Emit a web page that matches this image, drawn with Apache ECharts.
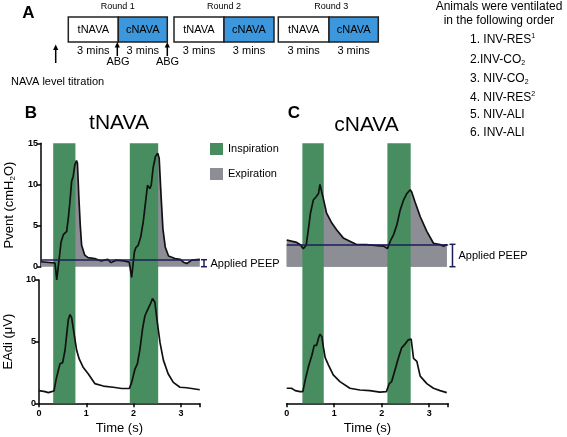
<!DOCTYPE html>
<html><head><meta charset="utf-8">
<script src="https://cdn.jsdelivr.net/npm/echarts@6/dist/echarts.min.js"></script>
<style>html,body{margin:0;padding:0;background:#fff}#c{width:567px;height:437px}</style>
</head><body><div id="c"></div>
<script>
// ---- data ----
const bPventT = [0,0.23,0.30,0.337,0.386,0.43,0.48,0.51,0.55,0.585,0.62,0.656,0.69,0.726,0.76,0.78,0.81,0.84,0.87,0.937,1.008,1.15,1.29,1.43,1.5,1.61,1.78,1.89,1.94,2.0,2.03,2.08,2.135,2.19,2.24,2.28,2.33,2.36,2.4,2.45,2.5,2.53,2.57,2.61,2.66,2.73,2.87,2.98,3.05,3.12,3.23,3.4];
const bPventV = [0.6,0.5,0.45,-1.6,0.8,3.0,3.9,4.0,4.3,5.9,7.9,10.4,11.0,12.4,12.9,12.6,8.5,5.1,2.6,1.4,1.1,1.0,0.7,0.9,0.5,0.8,0.7,0.55,-1.3,1.8,2.3,2.6,3.6,5.5,7.9,9.9,9.5,9.9,12.0,13.4,13.8,13.2,8.7,4.6,2.4,1.3,1.0,0.9,0.55,0.4,0.8,0.9];
const bEadiT = [0,0.127,0.197,0.268,0.317,0.36,0.41,0.444,0.5,0.55,0.585,0.62,0.656,0.69,0.74,0.796,0.85,0.937,1.04,1.18,1.36,1.57,1.75,1.91,1.96,2.03,2.08,2.135,2.19,2.24,2.31,2.36,2.4,2.45,2.5,2.56,2.63,2.73,2.84,2.98,3.12,3.23,3.4];
const bEadiV = [1.03,0.95,0.87,0.95,1.0,1.9,2.7,3.2,3.3,4.3,5.55,6.8,7.2,6.95,5.7,4.3,3.6,2.9,2.4,1.6,1.4,1.3,1.2,1.2,1.7,2.8,3.2,4.4,6.05,7.1,7.7,8.1,8.5,8.2,6.6,4.9,3.5,2.4,1.7,1.3,1.26,1.2,1.1];
const cPventT = [0,0.1,0.21,0.28,0.35,0.41,0.46,0.5,0.56,0.62,0.67,0.7,0.74,0.77,0.84,0.95,1.05,1.19,1.33,1.47,1.68,1.9,2.04,2.12,2.18,2.25,2.32,2.39,2.46,2.53,2.6,2.63,2.7,2.81,2.95,3.09,3.23,3.3,3.37];
const cPventV = [3.25,3.1,2.95,2.7,2.2,2.6,4.7,6.5,8.1,8.5,8.9,10.0,10.2,8.3,6.5,5.3,4.5,3.5,3.1,2.7,2.7,2.55,2.5,2.2,3.1,3.9,5.1,6.9,8.1,8.9,9.35,9.1,7.9,6.1,4.3,2.85,2.7,2.5,2.7];
const cEadiT = [0,0.1,0.18,0.28,0.34,0.39,0.46,0.53,0.58,0.63,0.67,0.7,0.74,0.77,0.81,0.88,0.98,1.12,1.33,1.54,1.75,1.96,2.1,2.16,2.21,2.28,2.35,2.42,2.49,2.56,2.62,2.67,2.74,2.81,2.95,3.09,3.23,3.37];
const cEadiV = [1.22,1.22,1.03,0.95,0.95,1.9,3.0,3.9,4.7,4.7,5.3,5.6,5.4,4.6,3.7,3.1,2.3,1.76,1.22,1.08,1.03,0.9,0.95,1.6,1.76,2.7,3.65,4.5,4.8,5.15,5.2,3.65,3.4,2.2,1.6,1.22,1.03,0.87];
const inspB = [[0.30,0.77],[1.92,2.52]];
const inspC = [[0.33,0.78],[2.12,2.61]];
const peepB = 0.85, peepC = 2.72;
const timeTicks = [0,1,2,3];
const pventTicks = [0,5,10,15];
const eadiTicks = [0,5,10];
const rounds = ['Round 1','Round 2','Round 3'];
const orderList = ['1. INV-RES{sup|1}','2.INV-CO{sub|2}','3. NIV-CO{sub|2}','4. NIV-RES{sup|2}','5. NIV-ALI','6. INV-ALI'];

const FONT = 'Liberation Sans, Arial, sans-serif';
const GREEN = '#478d5f', GRAY = '#8d8d95', NAVY = '#1c1c5a', BLUE = '#3c97dc';

const zip = (t, v) => t.map((x, i) => [x, v[i]]);

const axisBase = {
  type: 'value', min: 0, max: 3.4, interval: 1,
  axisLine: {lineStyle: {color: '#000', width: 1.5}},
  axisTick: {length: 4, lineStyle: {color: '#000', width: 1.5}},
  splitLine: {show: false},
  axisLabel: {fontSize: 9, fontWeight: 'bold', color: '#000', fontFamily: FONT, margin: 4,
    formatter: v => timeTicks.includes(v) ? String(v) : ''}
};
const hiddenX = {type: 'value', min: 0, max: 3.4, show: false};
const grids = [
  {left: 39, top: 143.3, width: 160.8, height: 123.4},
  {left: 39, top: 280, width: 160.8, height: 123.3},
  {left: 286.7, top: 143.3, width: 161.5, height: 123.4},
  {left: 286.7, top: 280, width: 161.5, height: 123.3},
  {left: 39, top: 143.3, width: 160.8, height: 260},
  {left: 286.7, top: 143.3, width: 161.5, height: 260}
];
const xAxes = [
  Object.assign({gridIndex: 0}, hiddenX),
  Object.assign({}, axisBase, {gridIndex: 1, offset: 2, name: 'Time (s)', nameLocation: 'middle', nameGap: 17,
    nameTextStyle: {fontSize: 13, color: '#000', fontFamily: FONT}}),
  Object.assign({gridIndex: 2}, hiddenX),
  Object.assign({}, axisBase, {gridIndex: 3, offset: 2, name: 'Time (s)', nameLocation: 'middle', nameGap: 17,
    nameTextStyle: {fontSize: 13, color: '#000', fontFamily: FONT}}),
  Object.assign({gridIndex: 4}, hiddenX),
  Object.assign({gridIndex: 5}, hiddenX)
];
const yStyle = (ticks) => ({
  axisLine: {show: true, lineStyle: {color: '#000', width: 1.5}},
  axisTick: {show: true, length: 4, lineStyle: {color: '#000', width: 1.5}},
  splitLine: {show: false},
  axisLabel: {fontSize: 9, fontWeight: 'bold', color: '#000', fontFamily: FONT, margin: 3,
    formatter: v => ticks.includes(v) ? String(v) : ''}
});
const yAxes = [
  Object.assign({type: 'value', gridIndex: 0, min: 0, max: 15, interval: 5,
    name: 'Pvent (cmH{sub|2}O)', nameLocation: 'middle', nameGap: 24,
    nameTextStyle: {fontSize: 13, color: '#000', fontFamily: FONT, lineHeight: 16,
      rich: {sub: {fontSize: 8, fontFamily: FONT, color: '#000', verticalAlign: 'bottom', lineHeight: 10}}}}, yStyle(pventTicks)),
  Object.assign({type: 'value', gridIndex: 1, min: 0, max: 10, interval: 5,
    name: 'EAdi (\u03bcV)', nameLocation: 'middle', nameGap: 24,
    nameTextStyle: {fontSize: 13, color: '#000', fontFamily: FONT}}, yStyle(eadiTicks)),
  {type: 'value', gridIndex: 2, min: 0, max: 15, show: false},
  {type: 'value', gridIndex: 3, min: 0, max: 10, show: false},
  {type: 'value', gridIndex: 4, min: 0, max: 1, show: false},
  {type: 'value', gridIndex: 5, min: 0, max: 1, show: false}
];

function areaSeries(idx, data, extraArea) {
  const s = {name: 'Expiration', type: 'line', xAxisIndex: idx, yAxisIndex: idx, data: data,
    symbol: 'none', clip: false, z: 1, color: GRAY, itemStyle: {color: GRAY},
    lineStyle: {width: 0, opacity: 0}, areaStyle: {color: GRAY, opacity: 1, origin: 0},
    silent: true, animation: false};
  if (extraArea) s.markArea = {silent: true, z: 1, itemStyle: {color: GRAY, opacity: 1}, data: extraArea};
  return s;
}
function lineSeries(idx, data, peep) {
  const s = {name: 'trace' + idx, type: 'line', xAxisIndex: idx, yAxisIndex: idx, data: data,
    symbol: 'none', clip: false, z: 4, lineStyle: {color: '#111', width: 1.7},
    silent: true, animation: false};
  if (peep !== undefined) s.markLine = {silent: true, z: 5, symbol: 'none', label: {show: false},
    lineStyle: {color: NAVY, width: 1.6, type: 'solid'}, data: [{yAxis: peep}]};
  return s;
}
function inspSeries(idx, windows) {
  return {name: 'Inspiration', type: 'line', xAxisIndex: idx, yAxisIndex: idx, data: [[0, 0]],
    symbol: 'none', z: 2, color: GREEN, itemStyle: {color: GREEN}, lineStyle: {width: 0, opacity: 0},
    silent: true, animation: false,
    markArea: {silent: true, z: 2, itemStyle: {color: GREEN, opacity: 1},
      data: windows.map(w => [{xAxis: w[0]}, {xAxis: w[1]}])}};
}

const series = [
  areaSeries(0, zip(bPventT, bPventV)),
  areaSeries(2, zip(cPventT, cPventV), [[{xAxis: 0, yAxis: 0}, {xAxis: 3.37, yAxis: peepC}]]),
  inspSeries(4, inspB),
  inspSeries(5, inspC),
  lineSeries(0, zip(bPventT, bPventV), peepB),
  lineSeries(1, zip(bEadiT, bEadiV)),
  lineSeries(2, zip(cPventT, cPventV), peepC),
  lineSeries(3, zip(cEadiT, cEadiV))
];

// ---- panel A schematic & labels ----
const g = [];
const txt = (x, y, text, size, opts) => g.push({type: 'text', x: x, y: y, z: 10, silent: true,
  style: Object.assign({text: text, fontSize: size, fontFamily: FONT, fill: '#000',
    align: 'center', verticalAlign: 'middle'}, opts || {})});
const boxX = [[68.3, 118.3, 167.3], [174, 224, 274], [278.3, 329, 378.3]];
boxX.forEach((b, i) => {
  g.push({type: 'rect', z: 10, silent: true, shape: {x: b[0], y: 17, width: b[1] - b[0], height: 25},
    style: {fill: '#fff', stroke: '#222', lineWidth: 1.5}});
  g.push({type: 'rect', z: 10, silent: true, shape: {x: b[1], y: 17, width: b[2] - b[1], height: 25},
    style: {fill: BLUE, stroke: '#222', lineWidth: 1.5}});
  txt((b[0] + b[1]) / 2, 29.5, 'tNAVA', 11);
  txt((b[1] + b[2]) / 2, 29.5, 'cNAVA', 11);
  txt((b[0] + b[1]) / 2, 51, '3 mins', 11);
  txt((b[1] + b[2]) / 2, 51, '3 mins', 11);
  txt((b[0] + b[2]) / 2 + (i === 2 ? 3 : 0), 7, rounds[i], 9);
});
function arrow(x, y1, y2) {
  g.push({type: 'line', z: 11, silent: true, shape: {x1: x, y1: y1, x2: x, y2: y2 + 3},
    style: {stroke: '#000', lineWidth: 1.5}});
  g.push({type: 'polygon', z: 11, silent: true, shape: {points: [[x - 2.6, y2 + 5], [x + 2.6, y2 + 5], [x, y2 - 0.5]]},
    style: {fill: '#000'}});
}
arrow(55.7, 63, 45);
arrow(117.3, 56, 42.5);
arrow(167.3, 56, 42.5);
txt(118, 62, 'ABG', 11);
txt(167.5, 62, 'ABG', 11);
txt(11, 81.5, 'NAVA level titration', 11, {align: 'left'});
txt(28.5, 13.5, 'A', 17, {fontWeight: 'bold'});
txt(31, 113, 'B', 17, {fontWeight: 'bold'});
txt(294, 113, 'C', 17, {fontWeight: 'bold'});
txt(119, 123.5, 'tNAVA', 21);
txt(366.5, 125, 'cNAVA', 21);
txt(499, 7, 'Animals were ventilated', 12);
txt(499, 20.5, 'in the following order', 12);
const orderY = [39.5, 59.5, 79, 97.5, 115, 132.5];
orderList.forEach((s, i) => txt(470, orderY[i], s, 12, {align: 'left',
  rich: {sup: {fontSize: 7, fontFamily: FONT, fill: '#000', verticalAlign: 'top', lineHeight: 14},
         sub: {fontSize: 7, fontFamily: FONT, fill: '#000', verticalAlign: 'bottom', lineHeight: 14}}}));

const chart = echarts.init(document.getElementById('c'), null, {renderer: 'canvas'});
chart.setOption({
  animation: false,
  backgroundColor: '#fff',
  grid: grids, xAxis: xAxes, yAxis: yAxes, series: series,
  legend: {data: ['Inspiration', 'Expiration'], orient: 'vertical', left: 210, top: 143,
    itemWidth: 13, itemHeight: 12, itemGap: 13, icon: 'rect', selectedMode: false,
    textStyle: {fontSize: 11, color: '#000', fontFamily: FONT}, padding: 0},
  graphic: g
});

// PEEP brackets positioned via the chart's own scales
function bracket(gridIndex, tx, peep, labelDx) {
  const top = chart.convertToPixel({gridIndex: gridIndex}, [tx, peep]);
  const bot = chart.convertToPixel({gridIndex: gridIndex}, [tx, 0]);
  const x = top[0];
  const els = [
    {type: 'line', shape: {x1: x, y1: top[1], x2: x, y2: bot[1]}, style: {stroke: NAVY, lineWidth: 1.5}},
    {type: 'line', shape: {x1: x - 3, y1: top[1], x2: x + 3, y2: top[1]}, style: {stroke: NAVY, lineWidth: 1.5}},
    {type: 'line', shape: {x1: x - 3, y1: bot[1], x2: x + 3, y2: bot[1]}, style: {stroke: NAVY, lineWidth: 1.5}},
    {type: 'text', x: x + labelDx, y: (top[1] + bot[1]) / 2 + 0.5,
      style: {text: 'Applied PEEP', fontSize: 11, fontFamily: FONT, fill: '#000', align: 'left', verticalAlign: 'middle'}}
  ];
  return els.map(e => Object.assign({z: 10, silent: true}, e));
}
chart.setOption({graphic: g.concat(bracket(0, 3.49, peepB, 6.5), bracket(2, 3.49, peepC, 6))});
</script></body></html>
